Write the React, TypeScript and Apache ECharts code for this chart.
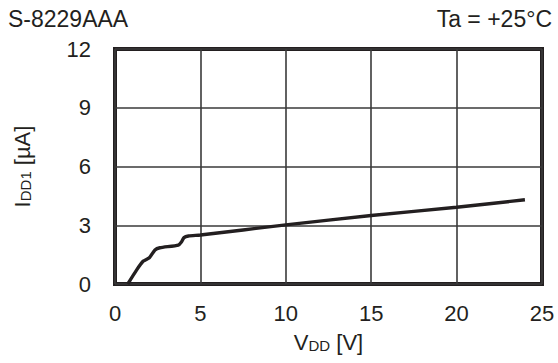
import React, { useEffect, useRef } from "react";
import * as echarts from "echarts";

const titleLeft = "S-8229AAA";
const titleRight = "Ta = +25°C";
const xTicks = [0, 5, 10, 15, 20, 25];
const yTicks = [0, 3, 6, 9, 12];
const vdd = [0.75, 1.27, 1.66, 2.01, 2.34, 2.63, 3.71, 3.9, 4.04, 4.3, 5, 10, 15, 20, 24];
const idd = [0, 0.72, 1.17, 1.34, 1.74, 1.85, 1.99, 2.16, 2.37, 2.45, 2.5, 3.02, 3.5, 3.92, 4.3];

const FONT = "Arial, 'Liberation Sans', Helvetica, sans-serif";
const INK = "#231f20";

export default function App() {
  const ref = useRef<HTMLDivElement>(null);
  useEffect(() => {
    if (!ref.current) return;
    const chart = echarts.init(ref.current, null, { renderer: "svg" });
    chart.setOption({
      animation: false,
      backgroundColor: "#ffffff",
      textStyle: { fontFamily: FONT, color: INK },
      title: [
        { text: titleLeft, left: 8, top: 7, padding: 0, textStyle: { fontSize: 23, fontWeight: "normal", color: INK, fontFamily: FONT } },
        { text: titleRight, right: 6, top: 7, padding: 0, textStyle: { fontSize: 23, fontWeight: "normal", color: INK, fontFamily: FONT } },
      ],
      grid: {
        left: 115,
        right: 16,
        top: 49,
        bottom: 79,
        show: true,
        borderWidth: 4,
        borderColor: INK,
        containLabel: false,
      },
      xAxis: {
        type: "value",
        min: xTicks[0],
        max: xTicks[xTicks.length - 1],
        interval: 5,
        axisLine: { show: false },
        axisTick: { show: false },
        splitLine: { show: true, lineStyle: { color: "#3a3a3a", width: 1.6 } },
        axisLabel: { fontSize: 22, color: INK, margin: 18, fontFamily: FONT },
        name: "V{s|DD} [V]",
        nameLocation: "middle",
        nameGap: 47,
        nameTextStyle: {
          fontSize: 22,
          color: INK,
          fontFamily: FONT,
          rich: { s: { fontSize: 15, color: INK, fontFamily: FONT, verticalAlign: "bottom" } },
        },
      },
      yAxis: {
        type: "value",
        min: yTicks[0],
        max: yTicks[yTicks.length - 1],
        interval: 3,
        axisLine: { show: false },
        axisTick: { show: false },
        splitLine: { show: true, lineStyle: { color: "#3a3a3a", width: 1.6 } },
        axisLabel: { fontSize: 22, color: INK, margin: 24, fontFamily: FONT },
        name: "I{s|DD1} [µA]",
        nameLocation: "middle",
        nameRotate: 90,
        nameGap: 82,
        nameTextStyle: {
          fontSize: 22,
          color: INK,
          fontFamily: FONT,
          rich: { s: { fontSize: 15, color: INK, fontFamily: FONT, verticalAlign: "bottom" } },
        },
      },
      series: [
        {
          type: "line",
          data: vdd.map((v, i) => [v, idd[i]]),
          showSymbol: false,
          symbol: "none",
          smooth: 0.2,
          lineStyle: { color: INK, width: 3.4 },
          z: 5,
        },
      ],
    });
    return () => chart.dispose();
  }, []);
  return <div ref={ref} style={{ position: "fixed", left: 0, top: 0, width: 558, height: 363 }} />;
}
